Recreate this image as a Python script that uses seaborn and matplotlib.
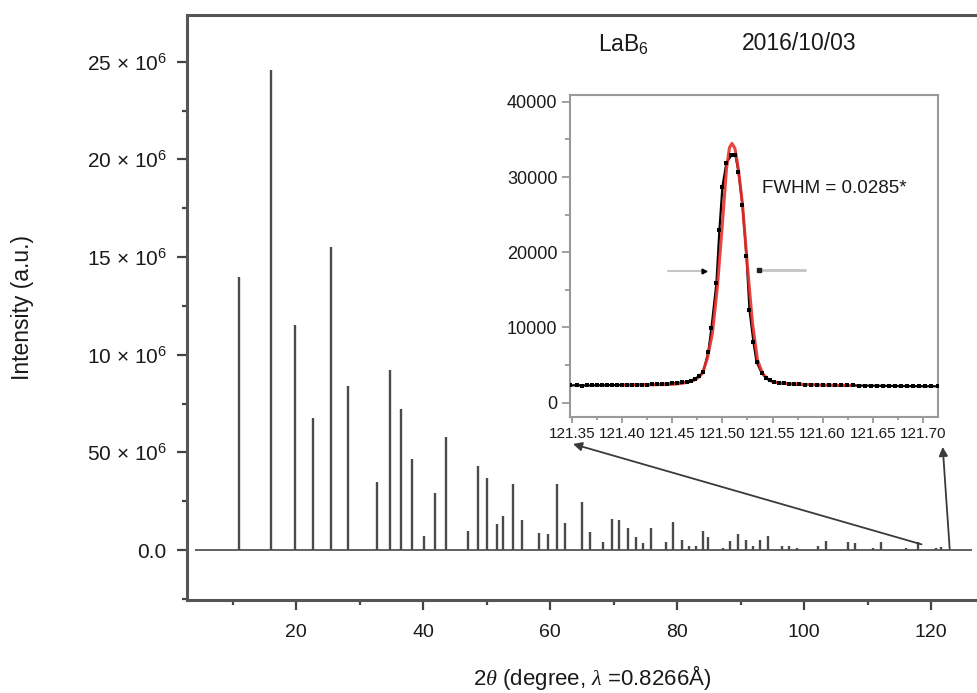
import matplotlib
matplotlib.use("Agg")
import matplotlib.pyplot as plt
import seaborn as sns
import numpy as np
from matplotlib.ticker import MultipleLocator

# ---------------- data ----------------
peak_2theta = [11.0, 16.0, 19.8, 22.6, 25.5, 28.1, 32.7, 34.75, 36.5, 38.2,
               40.2, 41.9, 43.6, 47.0, 48.6, 50.1, 51.6, 52.6, 54.1, 55.6,
               58.3, 59.7, 61.1, 62.4, 65.0, 66.3, 68.4, 69.7, 70.9, 72.2,
               73.5, 74.7, 75.9, 78.2, 79.4, 80.7, 81.9, 82.9, 84.1, 84.9,
               87.2, 88.3, 89.6, 90.8, 92.0, 93.0, 94.3, 96.6, 97.6, 98.9,
               102.2, 103.4, 106.9, 108.1, 110.8, 112.1, 116.0, 118.0, 120.8, 121.5]
peak_intensity_e6 = [14.0, 24.6, 11.5, 6.75, 15.5, 8.4, 3.5, 9.2, 7.2, 4.65,
                     0.7, 2.9, 5.8, 0.95, 4.3, 3.7, 1.35, 1.75, 3.4, 1.55,
                     0.85, 0.8, 3.4, 1.4, 2.45, 0.9, 0.4, 1.6, 1.55, 1.15,
                     0.65, 0.35, 1.15, 0.4, 1.45, 0.5, 0.2, 0.2, 0.95, 0.65,
                     0.12, 0.45, 0.8, 0.5, 0.18, 0.5, 0.7, 0.2, 0.2, 0.12,
                     0.2, 0.45, 0.4, 0.35, 0.12, 0.4, 0.12, 0.4, 0.1, 0.15]

main_xticks = [20, 40, 60, 80, 100, 120]
main_yticks = [0, 5e6, 10e6, 15e6, 20e6, 25e6]
main_ytick_labels = ["0.0", "50 × 10$^{6}$", "10 × 10$^{6}$", "15 × 10$^{6}$",
                     "20 × 10$^{6}$", "25 × 10$^{6}$"]

# inset: measured points around the high-angle peak
inset_x = [121.348, 121.355, 121.360, 121.365, 121.370, 121.375, 121.380, 121.385,
           121.390, 121.395, 121.400, 121.405, 121.410, 121.415, 121.420, 121.425,
           121.430, 121.435, 121.440, 121.445, 121.450, 121.455, 121.460, 121.465,
           121.469, 121.473, 121.477, 121.481, 121.486, 121.489, 121.494, 121.497,
           121.500, 121.504, 121.509, 121.513, 121.516, 121.520, 121.524, 121.527,
           121.531, 121.534, 121.539, 121.543, 121.547, 121.551, 121.556, 121.561,
           121.566, 121.571, 121.576, 121.582, 121.588, 121.594, 121.600, 121.606,
           121.612, 121.618, 121.624, 121.630, 121.636, 121.642, 121.648, 121.654,
           121.660, 121.666, 121.672, 121.678, 121.684, 121.690, 121.696, 121.702,
           121.708, 121.715]
inset_y = [2300, 2320, 2280, 2310, 2290, 2330, 2300, 2340,
           2320, 2350, 2330, 2360, 2340, 2370, 2380, 2400,
           2420, 2450, 2480, 2520, 2560, 2620, 2700, 2800,
           2950, 3200, 3550, 4120, 6780, 9880, 15860, 22950,
           28700, 31900, 32900, 32900, 30700, 26270, 19490, 12320,
           8020, 5450, 3990, 3350, 3000, 2790, 2650, 2570,
           2500, 2460, 2420, 2390, 2370, 2350, 2330, 2320,
           2300, 2310, 2290, 2300, 2280, 2260, 2270, 2240,
           2250, 2220, 2230, 2200, 2220, 2190, 2200, 2180,
           2190, 2170]

# inset: fitted profile (red)
fit_x = [121.400, 121.430, 121.450, 121.460, 121.470, 121.475, 121.480, 121.485,
         121.490, 121.495, 121.500, 121.504, 121.507, 121.5095, 121.5125, 121.516,
         121.520, 121.525, 121.530, 121.535, 121.540, 121.545, 121.550, 121.560,
         121.580, 121.600, 121.630]
fit_y = [2350, 2380, 2440, 2570, 2880, 3230, 3900, 5890,
         9210, 15420, 23830, 31000, 33900, 34470, 33800, 31000,
         26400, 18070, 10540, 5670, 3900, 3150, 2790, 2570,
         2440, 2350, 2300]

inset_xticks = [121.35, 121.40, 121.45, 121.50, 121.55, 121.60, 121.65, 121.70]
inset_yticks = [0, 10000, 20000, 30000, 40000]

# FWHM marker lines
fwhm_left_x = [121.446, 121.482]
fwhm_right_x = [121.582, 121.536]
fwhm_level = 17550

# ---------------- style ----------------
sns.set_theme(style="ticks")
plt.rcParams["font.family"] = ["Liberation Sans", "DejaVu Sans"]
plt.rcParams["mathtext.fontset"] = "custom"
plt.rcParams["mathtext.rm"] = "Liberation Sans"
plt.rcParams["mathtext.it"] = "Liberation Serif:italic"
plt.rcParams["mathtext.bf"] = "Liberation Sans:bold"

fig = plt.figure(figsize=(9.78, 6.93), dpi=100)
fig.patch.set_facecolor("white")

# ---------------- main axes ----------------
ax = fig.add_axes([187 / 978, 93 / 693, 791 / 978, 585 / 693])
ax.set_facecolor("white")
heights = np.array(peak_intensity_e6) * 1e6
ax.hlines(0, 4.0, 126.5, color="#555555", lw=1.3, zorder=2)
ax.vlines(peak_2theta, 0, heights, color="#4a4a4a", lw=1.7, zorder=3)

ax.set_xlim(2.79, 127.4)
ax.set_ylim(-2.56e6, 27.4e6)
ax.set_xticks(main_xticks)
ax.set_xticklabels([str(v) for v in main_xticks])
ax.xaxis.set_minor_locator(MultipleLocator(10))
ax.set_yticks(main_yticks)
ax.set_yticklabels(main_ytick_labels)
ax.yaxis.set_minor_locator(MultipleLocator(2.5e6))

for side in ["left", "top", "bottom"]:
    ax.spines[side].set_color("#555555")
    ax.spines[side].set_linewidth(2.2)
ax.spines["right"].set_visible(False)

ax.tick_params(axis="both", which="major", direction="out", length=7.5, width=1.6,
               color="#444444", labelcolor="#1a1a1a")
ax.tick_params(axis="both", which="minor", direction="out", length=3.5, width=1.6,
               color="#444444")
ax.tick_params(axis="x", which="major", pad=10, labelsize=14)
ax.tick_params(axis="y", which="major", pad=7, labelsize=15)
ax.tick_params(top=False, right=False, which="both")

# arrows pointing from the stick pattern to the inset
arrow_kw = dict(arrowstyle="-|>", color="#3a3a3a", lw=1.3, mutation_scale=13,
                shrinkA=0, shrinkB=0)
ax.annotate("", xy=(63.6, 5.43e6), xytext=(118.5, 0.29e6), arrowprops=arrow_kw, zorder=5)
ax.annotate("", xy=(121.84, 5.28e6), xytext=(122.94, 0.05e6), arrowprops=arrow_kw, zorder=5)

# labels / texts
fig.text(22 / 978, 1 - 308 / 693, "Intensity (a.u.)", rotation=90, ha="center",
         va="center", fontsize=16.5, color="#1a1a1a")
fig.text(592 / 978, 1 - 685 / 693, r"2$\theta$ (degree, $\lambda$ =0.8266Å)",
         ha="center", va="baseline", fontsize=16, color="#1a1a1a")
fig.text(598 / 978, 1 - 52 / 693, "LaB$_{6}$", ha="left", va="baseline",
         fontsize=16.5, color="#1a1a1a")
fig.text(742 / 978, 1 - 50 / 693, "2016/10/03", ha="left", va="baseline",
         fontsize=16.5, color="#1a1a1a")

# ---------------- inset ----------------
axin = fig.add_axes([570 / 978, 276 / 693, 368 / 978, 322 / 693])
axin.set_facecolor("white")
sns.lineplot(x=inset_x, y=inset_y, ax=axin, color="black", lw=1.6,
             estimator=None, zorder=2)
sns.lineplot(x=fit_x, y=fit_y, ax=axin, color="#e8302c", lw=2.2, alpha=0.9,
             estimator=None, zorder=3)
sns.scatterplot(x=inset_x, y=inset_y, ax=axin, color="black", marker="s", s=7,
                linewidth=0, zorder=4)

axin.plot(fwhm_left_x, [fwhm_level, fwhm_level], color="#c4c4c4", lw=1.5, zorder=2)
axin.plot(fwhm_right_x, [fwhm_level + 80, fwhm_level + 80], color="#c4c4c4", lw=2.0, zorder=2)
axin.plot([fwhm_left_x[1]], [fwhm_level], marker=">", color="black", ms=3.5, zorder=5)
axin.plot([fwhm_right_x[1]], [fwhm_level + 80], marker="s", color="#222222", ms=3.5, zorder=5)

axin.text(121.539, 28530, "FWHM = 0.0285*", fontsize=13.5, va="center", ha="left",
          color="#1a1a1a")

axin.set_xlim(121.348, 121.715)
axin.set_ylim(-1900, 40900)
axin.set_xticks(inset_xticks)
axin.set_xticklabels([f"{v:.2f}" for v in inset_xticks])
axin.xaxis.set_minor_locator(MultipleLocator(0.025))
axin.set_yticks(inset_yticks)
axin.set_yticklabels([str(v) for v in inset_yticks])
axin.yaxis.set_minor_locator(MultipleLocator(5000))
for side in ["left", "top", "bottom", "right"]:
    axin.spines[side].set_color("#999999")
    axin.spines[side].set_linewidth(1.5)
axin.tick_params(axis="both", which="both", direction="out", color="#999999",
                 width=1.3, labelcolor="#1a1a1a", top=False, right=False)
axin.tick_params(axis="y", which="major", length=6, labelsize=13, pad=3)
axin.tick_params(axis="y", which="minor", length=3.5)
axin.tick_params(axis="x", which="major", length=4, labelsize=11, pad=3)
axin.tick_params(axis="x", which="minor", length=2.5)
axin.set_xlabel("")
axin.set_ylabel("")

fig.savefig("out.png", dpi=100, facecolor="white")
